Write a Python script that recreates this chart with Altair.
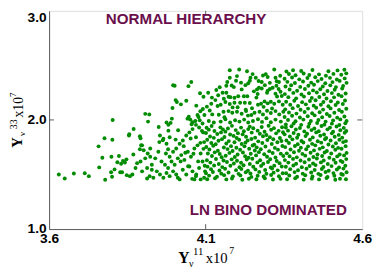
import altair as alt
import pandas as pd

# ---- data (x = Y_nu^11 x1e7, y = Y_nu^33 x1e7) ----
sparse_left = [
    (3.631, 1.500), (3.650, 1.464), (3.679, 1.509), (3.714, 1.511), (3.727, 1.485),
    (3.758, 1.758), (3.777, 1.833), (3.802, 1.818), (3.803, 2.000), (3.770, 1.654),
    (3.799, 1.663), (3.760, 1.565), (3.779, 1.452), (3.798, 1.520), (3.801, 1.479),
    (3.809, 1.547), (3.818, 1.613), (3.823, 1.669), (3.830, 1.598), (3.836, 1.625),
    (3.842, 1.610), (3.847, 1.639), (3.827, 1.520), (3.833, 1.520), (3.848, 1.494),
    (3.856, 1.869), (3.870, 1.917), (3.890, 1.851), (3.894, 1.768), (3.923, 1.738),
    (3.950, 1.935), (3.963, 1.813), (3.975, 1.976), (3.981, 1.902), (3.985, 1.842),
]

upper_left = [
    (4.001, 2.313), (4.045, 2.310), (4.054, 2.348), (4.082, 2.244), (4.093, 2.212),
    (4.004, 2.182), (4.021, 2.143), (4.038, 2.176), (4.070, 2.131), (3.994, 2.110),
    (4.083, 2.080), (4.091, 2.101), (3.907, 2.056), (3.920, 2.051), (3.916, 1.985),
    (3.992, 2.012), (3.988, 1.973), (3.981, 1.955), (4.046, 2.030), (4.042, 2.012),
    (4.051, 2.003), (4.058, 1.979), (4.067, 1.991), (4.074, 2.045), (4.077, 2.027),
    (4.081, 1.997), (4.096, 2.045), (4.055, 1.961), (4.069, 1.955), (4.090, 1.967),
    (4.008, 2.164), (3.996, 2.318),
]

lower_left = [
    (3.855, 1.857), (3.869, 1.684), (3.892, 1.833), (3.897, 1.767), (3.890, 1.732),
    (3.902, 1.723), (3.915, 1.693), (3.923, 1.663), (3.907, 1.648), (3.892, 1.619),
    (3.881, 1.604), (3.876, 1.559), (3.866, 1.500), (3.858, 1.485), (3.897, 1.529),
    (3.913, 1.559), (3.928, 1.589), (3.921, 1.485), (3.913, 1.464), (3.939, 1.648),
    (3.949, 1.708), (3.952, 1.797), (3.954, 1.857), (3.965, 1.827), (3.975, 1.782),
    (3.980, 1.732), (3.973, 1.693), (3.985, 1.663), (3.996, 1.708), (4.006, 1.738),
    (4.017, 1.782), (4.027, 1.812), (4.038, 1.857), (4.048, 1.886), (4.058, 1.916),
    (4.069, 1.842), (4.079, 1.931), (4.092, 1.886), (3.959, 1.619), (3.970, 1.589),
    (3.980, 1.559), (3.991, 1.619), (4.001, 1.589), (4.011, 1.648), (4.022, 1.678),
    (4.032, 1.634), (4.043, 1.708), (4.053, 1.663), (4.064, 1.738), (4.074, 1.767),
    (4.084, 1.693), (4.095, 1.797), (3.944, 1.529), (3.954, 1.500), (3.965, 1.470),
    (3.975, 1.514), (3.985, 1.485), (3.996, 1.529), (4.006, 1.500), (4.017, 1.455),
    (4.027, 1.544), (4.038, 1.500), (4.048, 1.574), (4.058, 1.529), (4.069, 1.485),
    (4.079, 1.559), (4.090, 1.619), (4.098, 1.529), (3.933, 1.470), (3.928, 1.544),
    (4.011, 1.470), (4.064, 1.455), (4.084, 1.455), (4.095, 1.470),
    (4.012, 1.905), (4.030, 1.760), (4.044, 1.575), (4.061, 1.690), (4.076, 1.620),
    (4.088, 1.900), (4.020, 1.620), (4.052, 1.830), (4.070, 1.500), (4.093, 1.735),
    (4.035, 1.700), (4.083, 1.790), (4.004, 1.820), (4.097, 1.580), (4.057, 1.460),
]

upper_mid = [
    (4.177, 2.456), (4.207, 2.462), (4.232, 2.447), (4.200, 2.402), (4.177, 2.387),
    (4.169, 2.348), (4.166, 2.313), (4.183, 2.316), (4.190, 2.301), (4.213, 2.342),
    (4.227, 2.319), (4.236, 2.337), (4.241, 2.360), (4.243, 2.387), (4.260, 2.387),
    (4.269, 2.357), (4.279, 2.348), (4.283, 2.408), (4.292, 2.420), (4.298, 2.393),
    (4.319, 2.462), (4.323, 2.387), (4.327, 2.354), (4.334, 2.348), (4.289, 2.319),
    (4.270, 2.295), (4.264, 2.280), (4.254, 2.262), (4.266, 2.238), (4.279, 2.289),
    (4.298, 2.268), (4.305, 2.283), (4.314, 2.295), (4.326, 2.313), (4.333, 2.283),
    (4.339, 2.259), (4.108, 2.250), (4.134, 2.274), (4.140, 2.226), (4.154, 2.250),
    (4.166, 2.250), (4.173, 2.212), (4.179, 2.209), (4.192, 2.203), (4.204, 2.217),
    (4.222, 2.217), (4.233, 2.217), (4.296, 2.250), (4.323, 2.241), (4.328, 2.215),
    (4.343, 2.220), (4.118, 2.149), (4.104, 2.122), (4.113, 2.087), (4.131, 2.182),
    (4.138, 2.128), (4.148, 2.140), (4.163, 2.164), (4.177, 2.146), (4.192, 2.158),
    (4.202, 2.116), (4.210, 2.158), (4.225, 2.158), (4.241, 2.155), (4.248, 2.107),
    (4.267, 2.140), (4.277, 2.149), (4.288, 2.170), (4.298, 2.152), (4.308, 2.167),
    (4.319, 2.149), (4.334, 2.170), (4.346, 2.140), (4.121, 2.051), (4.142, 2.048),
    (4.157, 2.075), (4.173, 2.081), (4.185, 2.066), (4.200, 2.075), (4.215, 2.057),
    (4.229, 2.081), (4.246, 2.045), (4.256, 2.066), (4.272, 2.075), (4.283, 2.051),
    (4.296, 2.084), (4.308, 2.063), (4.323, 2.081), (4.335, 2.051), (4.348, 2.075),
    (4.110, 1.991), (4.126, 1.976), (4.148, 1.985), (4.163, 2.006), (4.178, 1.976),
    (4.194, 1.997), (4.208, 1.985), (4.223, 2.003), (4.236, 1.976), (4.251, 1.991),
    (4.267, 2.006), (4.280, 1.982), (4.294, 2.015), (4.308, 1.979), (4.323, 2.003),
    (4.340, 1.985),
    (4.145, 2.300), (4.158, 2.195), (4.215, 2.280), (4.250, 2.420), (4.305, 2.340),
    (4.120, 2.205), (4.186, 2.115), (4.262, 2.205), (4.312, 2.105), (4.235, 2.040),
    (4.160, 2.025), (4.338, 2.405), (4.197, 2.360), (4.285, 2.120), (4.228, 2.095),
]

lower_mid = [
    (4.103, 1.929), (4.119, 1.944), (4.147, 1.932), (4.171, 1.921), (4.184, 1.946),
    (4.213, 1.930), (4.241, 1.939), (4.252, 1.924), (4.279, 1.936), (4.301, 1.947),
    (4.318, 1.925), (4.344, 1.933),
    (4.110, 1.911), (4.128, 1.898), (4.155, 1.914), (4.163, 1.893), (4.196, 1.907),
    (4.222, 1.897), (4.236, 1.916), (4.266, 1.902), (4.288, 1.892), (4.309, 1.910),
    (4.333, 1.900),
    (4.101, 1.880), (4.137, 1.871), (4.149, 1.886), (4.178, 1.866), (4.203, 1.879),
    (4.218, 1.868), (4.247, 1.884), (4.273, 1.873), (4.294, 1.862), (4.325, 1.877),
    (4.347, 1.888),
    (4.114, 1.849), (4.126, 1.836), (4.160, 1.843), (4.189, 1.854), (4.199, 1.834),
    (4.229, 1.846), (4.258, 1.838), (4.283, 1.851), (4.305, 1.841), (4.337, 1.835),
    (4.105, 1.818), (4.141, 1.809), (4.152, 1.824), (4.174, 1.806), (4.207, 1.819),
    (4.234, 1.811), (4.246, 1.826), (4.268, 1.804), (4.297, 1.816), (4.316, 1.823),
    (4.342, 1.807),
    (4.118, 1.789), (4.132, 1.777), (4.166, 1.784), (4.192, 1.795), (4.215, 1.780),
    (4.227, 1.792), (4.255, 1.774), (4.281, 1.788), (4.311, 1.779), (4.329, 1.796),
    (4.102, 1.752), (4.124, 1.763), (4.158, 1.748), (4.181, 1.760), (4.198, 1.745),
    (4.224, 1.758), (4.250, 1.766), (4.263, 1.749), (4.291, 1.757), (4.321, 1.744),
    (4.345, 1.762),
    (4.112, 1.729), (4.139, 1.718), (4.170, 1.733), (4.186, 1.716), (4.210, 1.727),
    (4.239, 1.736), (4.257, 1.720), (4.276, 1.731), (4.303, 1.714), (4.331, 1.728),
    (4.107, 1.692), (4.129, 1.703), (4.145, 1.688), (4.176, 1.698), (4.202, 1.684),
    (4.219, 1.701), (4.244, 1.690), (4.270, 1.705), (4.287, 1.686), (4.314, 1.697),
    (4.340, 1.691),
    (4.120, 1.669), (4.151, 1.658), (4.164, 1.672), (4.193, 1.661), (4.226, 1.667),
    (4.237, 1.653), (4.261, 1.675), (4.296, 1.662), (4.323, 1.656), (4.348, 1.670),
    (4.104, 1.631), (4.133, 1.642), (4.157, 1.628), (4.183, 1.639), (4.200, 1.626),
    (4.231, 1.637), (4.249, 1.645), (4.274, 1.630), (4.306, 1.640), (4.327, 1.624),
    (4.115, 1.609), (4.142, 1.597), (4.168, 1.614), (4.190, 1.601), (4.213, 1.608),
    (4.241, 1.596), (4.265, 1.611), (4.284, 1.599), (4.299, 1.615), (4.336, 1.604),
    (4.106, 1.572), (4.127, 1.583), (4.153, 1.568), (4.179, 1.580), (4.208, 1.566),
    (4.221, 1.585), (4.252, 1.571), (4.277, 1.579), (4.308, 1.565), (4.319, 1.581),
    (4.343, 1.573),
    (4.117, 1.549), (4.144, 1.537), (4.162, 1.553), (4.197, 1.540), (4.214, 1.551),
    (4.235, 1.535), (4.259, 1.547), (4.290, 1.542), (4.312, 1.555), (4.330, 1.538),
    (4.101, 1.512), (4.123, 1.523), (4.150, 1.508), (4.173, 1.519), (4.205, 1.506),
    (4.228, 1.521), (4.243, 1.510), (4.271, 1.524), (4.294, 1.507), (4.317, 1.517),
    (4.346, 1.511),
    (4.111, 1.490), (4.136, 1.480), (4.159, 1.494), (4.187, 1.483), (4.211, 1.492),
    (4.246, 1.478), (4.266, 1.489), (4.285, 1.481), (4.309, 1.495), (4.334, 1.484),
    (4.105, 1.457), (4.130, 1.466), (4.166, 1.455), (4.184, 1.463), (4.217, 1.452),
    (4.238, 1.461), (4.262, 1.456), (4.289, 1.466), (4.315, 1.454), (4.339, 1.460),
]

upper_right = [
    (4.358, 2.444), (4.379, 2.456), (4.405, 2.449), (4.441, 2.458), (4.492, 2.447),
    (4.521, 2.454), (4.543, 2.460),
    (4.366, 2.421), (4.387, 2.409), (4.413, 2.425), (4.431, 2.412), (4.462, 2.418),
    (4.484, 2.405), (4.508, 2.422), (4.533, 2.414), (4.549, 2.427),
    (4.352, 2.377), (4.376, 2.389), (4.399, 2.372), (4.425, 2.384), (4.450, 2.392),
    (4.470, 2.375), (4.497, 2.386), (4.519, 2.370), (4.544, 2.381),
    (4.361, 2.349), (4.385, 2.338), (4.411, 2.353), (4.437, 2.342), (4.458, 2.356),
    (4.482, 2.336), (4.505, 2.347), (4.528, 2.358), (4.550, 2.340),
    (4.355, 2.306), (4.373, 2.318), (4.402, 2.303), (4.428, 2.314), (4.446, 2.323),
    (4.474, 2.307), (4.498, 2.317), (4.516, 2.301), (4.539, 2.312),
    (4.368, 2.279), (4.392, 2.268), (4.417, 2.284), (4.443, 2.271), (4.466, 2.282),
    (4.489, 2.266), (4.512, 2.277), (4.536, 2.288),
    (4.353, 2.237), (4.380, 2.248), (4.406, 2.233), (4.430, 2.244), (4.455, 2.252),
    (4.478, 2.235), (4.503, 2.246), (4.524, 2.231), (4.547, 2.242),
    (4.364, 2.209), (4.389, 2.198), (4.414, 2.214), (4.439, 2.202), (4.463, 2.211),
    (4.486, 2.196), (4.510, 2.207), (4.534, 2.218),
    (4.357, 2.167), (4.383, 2.176), (4.408, 2.163), (4.433, 2.174), (4.451, 2.181),
    (4.476, 2.165), (4.500, 2.172), (4.522, 2.160), (4.545, 2.178),
    (4.370, 2.139), (4.395, 2.128), (4.420, 2.143), (4.445, 2.131), (4.468, 2.140),
    (4.492, 2.126), (4.515, 2.137), (4.538, 2.146),
    (4.354, 2.097), (4.378, 2.108), (4.403, 2.093), (4.427, 2.104), (4.453, 2.112),
    (4.475, 2.095), (4.499, 2.106), (4.526, 2.091), (4.549, 2.103),
    (4.366, 2.069), (4.390, 2.058), (4.416, 2.073), (4.440, 2.061), (4.464, 2.070),
    (4.487, 2.055), (4.511, 2.066), (4.535, 2.075),
    (4.352, 2.027), (4.376, 2.038), (4.401, 2.023), (4.426, 2.034), (4.448, 2.042),
    (4.472, 2.025), (4.496, 2.036), (4.520, 2.021), (4.543, 2.031),
    (4.363, 1.999), (4.387, 1.988), (4.412, 2.003), (4.436, 1.991), (4.460, 2.000),
    (4.483, 1.985), (4.507, 1.996), (4.530, 2.005), (4.550, 1.990),
    (4.356, 1.958), (4.381, 1.968), (4.405, 1.955), (4.431, 1.965), (4.456, 1.972),
    (4.479, 1.957), (4.503, 1.966), (4.527, 1.953), (4.546, 1.970),
]

lower_right = [
    (4.356, 1.931), (4.374, 1.943), (4.401, 1.926), (4.428, 1.938), (4.447, 1.922),
    (4.470, 1.944), (4.497, 1.930), (4.518, 1.940), (4.541, 1.927),
    (4.363, 1.902), (4.388, 1.912), (4.415, 1.895), (4.438, 1.907), (4.461, 1.897),
    (4.489, 1.914), (4.507, 1.893), (4.530, 1.905), (4.549, 1.899),
    (4.352, 1.868), (4.381, 1.880), (4.396, 1.864), (4.424, 1.874), (4.453, 1.886),
    (4.478, 1.867), (4.503, 1.877), (4.525, 1.863), (4.544, 1.883),
    (4.369, 1.848), (4.392, 1.837), (4.419, 1.852), (4.442, 1.840), (4.466, 1.855),
    (4.485, 1.835), (4.512, 1.846), (4.536, 1.838),
    (4.358, 1.812), (4.377, 1.822), (4.406, 1.807), (4.433, 1.818), (4.458, 1.805),
    (4.481, 1.823), (4.499, 1.811), (4.527, 1.819), (4.548, 1.806),
    (4.366, 1.789), (4.394, 1.778), (4.412, 1.794), (4.440, 1.781), (4.469, 1.792),
    (4.492, 1.775), (4.516, 1.786), (4.539, 1.797),
    (4.354, 1.751), (4.385, 1.762), (4.404, 1.746), (4.427, 1.758), (4.450, 1.767),
    (4.474, 1.749), (4.506, 1.756), (4.523, 1.744), (4.547, 1.760),
    (4.371, 1.729), (4.398, 1.718), (4.421, 1.732), (4.446, 1.721), (4.464, 1.735),
    (4.487, 1.716), (4.514, 1.727), (4.534, 1.736),
    (4.359, 1.694), (4.382, 1.704), (4.409, 1.689), (4.435, 1.699), (4.457, 1.684),
    (4.480, 1.702), (4.501, 1.692), (4.528, 1.683), (4.550, 1.698),
    (4.368, 1.668), (4.391, 1.657), (4.418, 1.673), (4.444, 1.660), (4.472, 1.670),
    (4.495, 1.654), (4.520, 1.666), (4.542, 1.675),
    (4.353, 1.632), (4.379, 1.643), (4.403, 1.628), (4.430, 1.638), (4.455, 1.647),
    (4.477, 1.629), (4.509, 1.636), (4.531, 1.625), (4.549, 1.641),
    (4.364, 1.609), (4.389, 1.598), (4.416, 1.613), (4.443, 1.601), (4.468, 1.611),
    (4.490, 1.596), (4.515, 1.607), (4.537, 1.615),
    (4.356, 1.571), (4.380, 1.582), (4.407, 1.567), (4.432, 1.578), (4.451, 1.586),
    (4.476, 1.569), (4.502, 1.577), (4.526, 1.564), (4.546, 1.580),
    (4.370, 1.549), (4.395, 1.539), (4.422, 1.553), (4.448, 1.541), (4.471, 1.550),
    (4.493, 1.535), (4.519, 1.546), (4.540, 1.554),
    (4.357, 1.512), (4.384, 1.522), (4.410, 1.508), (4.437, 1.519), (4.460, 1.506),
    (4.483, 1.523), (4.508, 1.513), (4.533, 1.505), (4.550, 1.520),
    (4.367, 1.491), (4.392, 1.480), (4.418, 1.493), (4.441, 1.482), (4.467, 1.495),
    (4.489, 1.478), (4.511, 1.488), (4.538, 1.497),
    (4.360, 1.457), (4.386, 1.465), (4.413, 1.453), (4.439, 1.462), (4.462, 1.455),
    (4.486, 1.467), (4.514, 1.452), (4.529, 1.461), (4.548, 1.456),
]

x_domain = [3.6, 4.6]
y_domain = [1.0, 3.0]
x_ticks = [3.6, 4.1, 4.6]
y_ticks = [1.0, 2.0, 3.0]
x_minor = [4.1]
y_minor = [2.0]
panel_labels = ["NORMAL HIERARCHY", "LN BINO DOMINATED"]
x_title_parts = ["Y", "\u03bd", "11", "x10", "7"]
y_title_parts = ["Y", "\u03bd", "33", "x10", "7"]

all_pts = (sparse_left + upper_left + lower_left + upper_mid + lower_mid
           + upper_right + lower_right)
df = pd.DataFrame(all_pts, columns=["x", "y"])

W, H = 320, 223
FRAME = "#5a5a5a"
GREEN = "#008c00"
LABEL_COL = "#6a0f4c"

xs = alt.Scale(domain=x_domain, nice=False, zero=False)
ys = alt.Scale(domain=y_domain, nice=False, zero=False)

axis_common = dict(
    grid=False, ticks=False, title=None, format=".1f", labelFlush=False,
    labelFont="Liberation Sans", labelFontWeight="bold", labelFontSize=14,
    labelColor="black", domainColor=FRAME, domainWidth=1, labelOverlap=False,
)

points = alt.Chart(df).mark_circle(size=16, color=GREEN, opacity=1).encode(
    x=alt.X("x:Q", scale=xs, axis=alt.Axis(values=x_ticks, labelPadding=3, **axis_common)),
    y=alt.Y("y:Q", scale=ys, axis=alt.Axis(values=y_ticks, labelPadding=3,
                                           labelBaseline={"condition": {"test": "datum.value == 3", "value": "top"}, "value": "middle"},
                                           **axis_common)),
)

tx = pd.DataFrame({"x": x_minor})
ty = pd.DataFrame({"y": y_minor})
tick_b = alt.Chart(tx).mark_rule(color=FRAME).encode(x=alt.X("x:Q", scale=xs), y=alt.value(H), y2=alt.value(H - 5))
tick_t = alt.Chart(tx).mark_rule(color=FRAME).encode(x=alt.X("x:Q", scale=xs), y=alt.value(0), y2=alt.value(5))
tick_l = alt.Chart(ty).mark_rule(color=FRAME).encode(y=alt.Y("y:Q", scale=ys), x=alt.value(0), x2=alt.value(5))
tick_r = alt.Chart(ty).mark_rule(color=FRAME).encode(y=alt.Y("y:Q", scale=ys), x=alt.value(W), x2=alt.value(W - 5))

def txt(s, x, y, size, font="Liberation Sans", weight="bold", color="black", angle=0, align="center", baseline="alphabetic"):
    return alt.Chart(pd.DataFrame({"t": [s]})).mark_text(
        font=font, fontWeight=weight, fontSize=size, color=color, angle=angle,
        align=align, baseline=baseline,
    ).encode(text="t:N", x=alt.value(x), y=alt.value(y))

lab1 = txt(panel_labels[0], 140, 8, 15.5, color=LABEL_COL, baseline="middle")
lab2 = txt(panel_labels[1], 224, 204, 15.5, color=LABEL_COL, baseline="middle")

SERIF = "Liberation Serif"
# x-axis title pieces
xt = [
    txt(x_title_parts[0], 132, 258, 16, font=SERIF, weight="bold", align="left"),
    txt(x_title_parts[1], 143, 262, 10, font=SERIF, weight="normal", align="left"),
    txt(x_title_parts[2], 147, 250, 11, font=SERIF, weight="normal", align="left"),
    txt(x_title_parts[3], 160, 258, 15, font=SERIF, weight="normal", align="left"),
    txt(x_title_parts[4], 184, 248, 10, font=SERIF, weight="normal", align="left"),
]
# y-axis title pieces (rotated, reading upwards)
yt = [
    txt(y_title_parts[0], -28, 140, 15, font=SERIF, weight="bold", angle=270, align="left"),
    txt(y_title_parts[1], -25, 128, 9, font=SERIF, weight="normal", angle=270, align="left"),
    txt(y_title_parts[2], -33, 121, 10, font=SERIF, weight="normal", angle=270, align="left"),
    txt(y_title_parts[3], -27, 109, 14, font=SERIF, weight="normal", angle=270, align="left"),
    txt(y_title_parts[4], -34, 88, 9, font=SERIF, weight="normal", angle=270, align="left"),
]

chart = alt.layer(points, tick_b, tick_t, tick_l, tick_r, lab1, lab2, *xt, *yt).properties(
    width=W, height=H,
    autosize=alt.AutoSizeParams(type="none"),
    padding={"left": 42, "top": 0, "right": 11, "bottom": 42},
).configure_view(stroke=FRAME, strokeWidth=1).configure(background="white")

chart.save("out.html", embed_options={"renderer": "svg", "actions": False})
